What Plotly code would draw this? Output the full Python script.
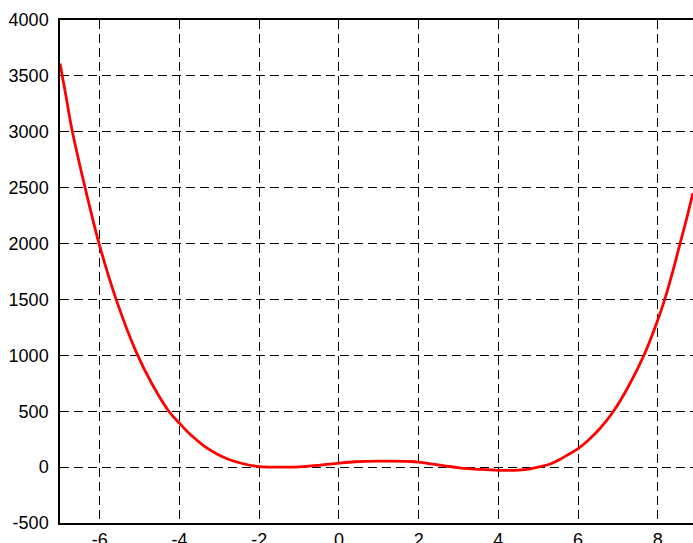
import plotly.graph_objects as go

# Curve values
x_vals = [-7.0, -6.85, -6.70, -6.37, -6.02, -5.60, -5.10, -4.70, -4.27, -4.0,
          -3.70, -3.39, -3.05, -2.76, -2.40, -2.0, -1.5, -1.0, -0.47, 0.0,
          0.4, 1.0, 1.8, 2.0, 2.4, 2.7, 3.03, 3.52, 4.0, 4.52,
          4.80, 5.03, 5.30, 5.52, 5.80, 6.0, 6.27, 6.55, 6.89, 7.25,
          7.66, 8.0, 8.14, 8.35, 8.56, 8.72, 8.88]
y_vals = [3610, 3320, 3020, 2500, 2000, 1510, 1040, 750, 500, 392,
          282, 190, 115, 68, 30, 4, 0, 2, 18, 36,
          48, 53, 50, 44, 24, 9, -6, -20, -29, -27,
          -15, 2, 28, 63, 122, 165, 245, 345, 500, 712,
          1005, 1315, 1460, 1715, 2000, 2215, 2450]

x_ticks = [-6, -4, -2, 0, 2, 4, 6, 8]
y_ticks = [-500, 0, 500, 1000, 1500, 2000, 2500, 3000, 3500, 4000]

fig = go.Figure()
fig.add_trace(go.Scatter(x=x_vals, y=y_vals, mode="lines",
                         line=dict(color="#ff0000", width=2.8, shape="spline", smoothing=1.0),
                         showlegend=False))

font = dict(family="Liberation Sans, Arial, sans-serif", size=18, color="black")

fig.update_layout(
    width=693, height=543,
    margin=dict(l=60, r=0, t=20, b=20, autoexpand=False),
    paper_bgcolor="white", plot_bgcolor="white",
    font=font,
    xaxis=dict(range=[-7, 8.885], tickmode="array", tickvals=x_ticks,
               ticktext=[str(v) for v in x_ticks], automargin=False,
               showgrid=True, gridcolor="black", gridwidth=1, griddash="9px,5px",
               showline=True, linecolor="black", linewidth=1.5, mirror=True,
               ticks="", zeroline=False, ticklabelstandoff=0, tickfont=font),
    yaxis=dict(range=[-500, 4000], tickmode="array", tickvals=y_ticks,
               ticktext=[str(v) for v in y_ticks], automargin=False,
               showgrid=True, gridcolor="black", gridwidth=1, griddash="9px,5px",
               showline=True, linecolor="black", linewidth=1.5, mirror=False,
               ticks="", zeroline=False, ticklabelstandoff=6, tickfont=font),
)

fig.write_html("out.html", config={"displayModeBar": False},
               post_script="document.body.style.margin='0';document.body.style.overflow='hidden';")
